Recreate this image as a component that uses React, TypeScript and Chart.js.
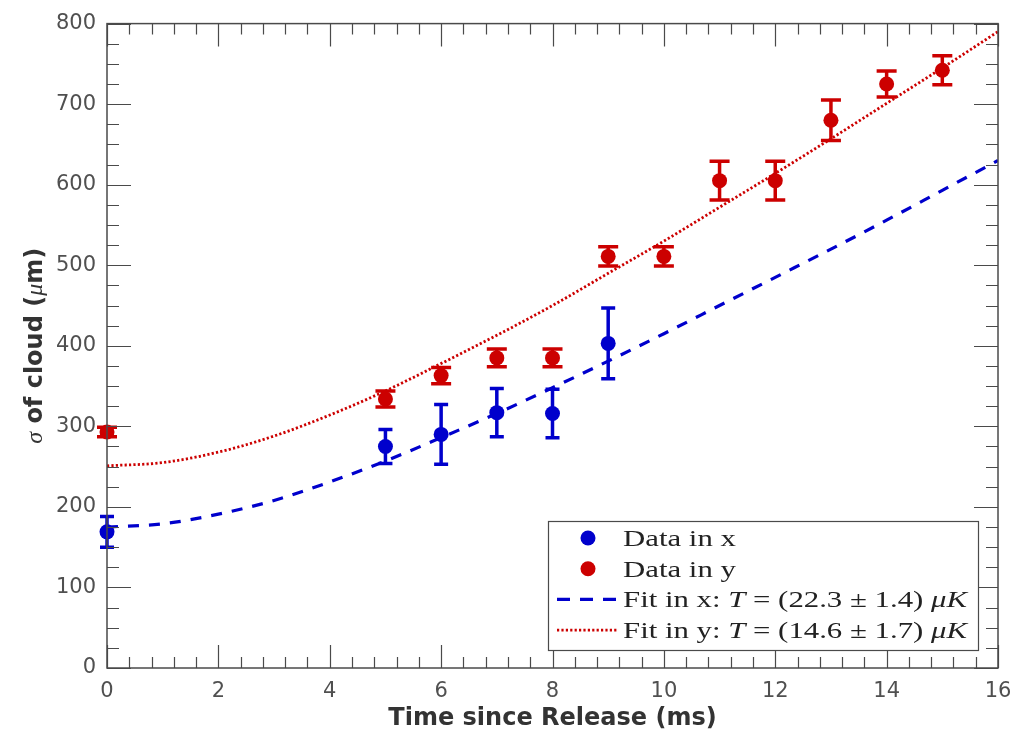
import { useEffect, useRef } from "react";
import { Chart, registerables } from "chart.js";

Chart.register(...registerables);

// ---- data ----
const dataTimeX = [0, 5, 6, 7, 8, 9];
const dataSigmaX = [169, 275, 290, 317, 316, 403];
const errSigmaX = [19, 21, 37, 30, 30, 44];

const dataTimeY = [0, 5, 6, 7, 8, 9, 10, 11, 12, 13, 14, 15];
const dataSigmaY = [293, 334, 363, 385, 385, 511, 511, 605, 605, 680, 725, 742];
const errSigmaY = [6, 10, 10, 11, 11, 12, 12, 24, 24, 25, 16, 18];

const fitTime = [0, 1, 2, 3, 4, 5, 6, 7, 8, 9, 10, 11, 12, 13, 14, 15, 16];
const fitSigmaX = [175, 179, 191, 208, 231, 257, 286, 316, 348, 381, 415, 450, 485, 520, 556, 593, 630];
const fitSigmaY = [251, 255, 268, 288, 314, 344, 378, 413, 450, 490, 530, 572, 614, 657, 701, 745, 790];

const xTickValues = [0, 2, 4, 6, 8, 10, 12, 14, 16];
const yTickValues = [0, 100, 200, 300, 400, 500, 600, 700, 800];

const xTitle = "Time since Release (ms)";
const yTitleParts: [string, string][] = [
  ["σ", "math"],
  [" of cloud (", "bold"],
  ["μ", "math"],
  ["m)", "bold"],
];

// legend rows: [text, italic?] segments
const legendRows: { kind: string; parts: [string, boolean][] }[] = [
  { kind: "pointX", parts: [["Data in x", false]] },
  { kind: "pointY", parts: [["Data in y", false]] },
  {
    kind: "dash",
    parts: [["Fit in x: ", false], ["T", true], [" = (22.3 ± 1.4) ", false], ["μK", true]],
  },
  {
    kind: "dot",
    parts: [["Fit in y: ", false], ["T", true], [" = (14.6 ± 1.7) ", false], ["μK", true]],
  },
];

const BLUE = "rgb(0,0,204)";
const RED = "rgb(204,0,0)";
const AXIS = "#4a4a4a";
const TICKTXT = "#505050";

const decorPlugin = {
  id: "decor",
  afterDatasetsDraw(chart: any) {
    const { ctx, scales } = chart;
    const xs = scales.x;
    const ys = scales.y;
    const groups: [number[], number[], number[], string, number][] = [
      [dataTimeX, dataSigmaX, errSigmaX, BLUE, 7],
      [dataTimeY, dataSigmaY, errSigmaY, RED, 10],
    ];
    ctx.save();
    for (const [ts, vs, es, color, cap] of groups) {
      ctx.strokeStyle = color;
      ctx.lineWidth = 3.5;
      ctx.lineCap = "butt";
      for (let i = 0; i < ts.length; i++) {
        const px = xs.getPixelForValue(ts[i]);
        const pt = ys.getPixelForValue(vs[i] + es[i]);
        const pb = ys.getPixelForValue(vs[i] - es[i]);
        ctx.beginPath();
        ctx.moveTo(px, pt);
        ctx.lineTo(px, pb);
        ctx.moveTo(px - cap, pt);
        ctx.lineTo(px + cap, pt);
        ctx.moveTo(px - cap, pb);
        ctx.lineTo(px + cap, pb);
        ctx.stroke();
      }
    }
    ctx.restore();
  },
  afterDraw(chart: any) {
    const { ctx, chartArea, scales } = chart;
    const xs = scales.x;
    const ys = scales.y;
    const { left, right, top, bottom } = chartArea;
    ctx.save();
    // ticks
    ctx.strokeStyle = AXIS;
    ctx.lineWidth = 1.2;
    ctx.beginPath();
    for (let i = 0; i <= 40; i++) {
      const v = i * 0.4;
      const len = i % 5 === 0 ? 23 : 11;
      const px = Math.round(xs.getPixelForValue(v)) + 0.5;
      ctx.moveTo(px, bottom);
      ctx.lineTo(px, bottom - len);
      ctx.moveTo(px, top);
      ctx.lineTo(px, top + len);
    }
    for (let i = 0; i <= 32; i++) {
      const v = i * 25;
      const len = i % 4 === 0 ? 24 : 12;
      const py = Math.round(ys.getPixelForValue(v)) + 0.5;
      ctx.moveTo(left, py);
      ctx.lineTo(left + len, py);
      ctx.moveTo(right, py);
      ctx.lineTo(right - len, py);
    }
    ctx.stroke();
    // frame
    ctx.lineWidth = 1.5;
    ctx.strokeRect(left, top, right - left, bottom - top);

    // y title
    const fBold = "bold 24px 'DejaVu Sans'";
    const fMath = "italic 24px 'Liberation Serif'";
    ctx.fillStyle = "#333";
    ctx.textBaseline = "alphabetic";
    ctx.textAlign = "left";
    let total = 0;
    for (const [t, k] of yTitleParts) {
      ctx.font = k === "bold" ? fBold : fMath;
      total += ctx.measureText(t).width;
    }
    ctx.save();
    ctx.translate(left - 65, (top + bottom) / 2);
    ctx.rotate(-Math.PI / 2);
    let cx = -total / 2;
    for (const [t, k] of yTitleParts) {
      ctx.font = k === "bold" ? fBold : fMath;
      ctx.fillText(t, cx, 0);
      cx += ctx.measureText(t).width;
    }
    ctx.restore();

    // legend
    const bw = 430;
    const bh = 129;
    const bx = right - 20 - bw;
    const by = bottom - 18 - bh;
    ctx.fillStyle = "#fff";
    ctx.fillRect(bx, by, bw, bh);
    ctx.strokeStyle = "#4a4a4a";
    ctx.lineWidth = 1.2;
    ctx.strokeRect(bx + 0.5, by + 0.5, bw, bh);

    const fN = "24px 'Liberation Serif'";
    const fI = "italic 24px 'Liberation Serif'";
    let wLong = 0;
    for (const [t, it] of legendRows[2].parts) {
      ctx.font = it ? fI : fN;
      wLong += ctx.measureText(t).width;
    }
    const sx = 344 / wLong;
    const textX = bx + 75;
    legendRows.forEach((row, i) => {
      const cy = by + 17 + i * 30.7;
      if (row.kind === "pointX" || row.kind === "pointY") {
        ctx.fillStyle = row.kind === "pointX" ? BLUE : RED;
        ctx.beginPath();
        ctx.arc(bx + 40, cy, 7.5, 0, Math.PI * 2);
        ctx.fill();
      } else {
        ctx.save();
        ctx.strokeStyle = row.kind === "dash" ? BLUE : RED;
        ctx.lineWidth = row.kind === "dash" ? 3.2 : 2.6;
        ctx.setLineDash(row.kind === "dash" ? [13, 10] : [2.2, 2.2]);
        ctx.beginPath();
        ctx.moveTo(bx + 9, cy);
        ctx.lineTo(bx + 69, cy);
        ctx.stroke();
        ctx.restore();
      }
      ctx.save();
      ctx.translate(textX, cy + 8);
      ctx.scale(sx, 1);
      ctx.fillStyle = "#222";
      ctx.textBaseline = "alphabetic";
      let tx = 0;
      for (const [t, it] of row.parts) {
        ctx.font = it ? fI : fN;
        ctx.fillText(t, tx, 0);
        tx += ctx.measureText(t).width;
      }
      ctx.restore();
    });
    ctx.restore();
  },
};

export default function App() {
  const ref = useRef<HTMLCanvasElement | null>(null);
  useEffect(() => {
    if (!ref.current) return;
    const chart = new Chart(ref.current, {
      type: "scatter",
      data: {
        datasets: [
          {
            label: "Data in x",
            data: dataTimeX.map((t, i) => ({ x: t, y: dataSigmaX[i] })),
            backgroundColor: BLUE,
            borderColor: BLUE,
            pointRadius: 7.5,
            pointBorderWidth: 0,
            showLine: false,
            clip: false,
            order: 0,
          },
          {
            label: "Data in y",
            data: dataTimeY.map((t, i) => ({ x: t, y: dataSigmaY[i] })),
            backgroundColor: RED,
            borderColor: RED,
            pointRadius: 7.5,
            pointBorderWidth: 0,
            showLine: false,
            clip: false,
            order: 0,
          },
          {
            type: "line",
            label: "Fit in x",
            data: fitTime.map((t, i) => ({ x: t, y: fitSigmaX[i] })),
            borderColor: BLUE,
            borderWidth: 3.2,
            borderDash: [11, 10],
            pointRadius: 0,
            cubicInterpolationMode: "monotone",
            fill: false,
            order: 1,
          },
          {
            type: "line",
            label: "Fit in y",
            data: fitTime.map((t, i) => ({ x: t, y: fitSigmaY[i] })),
            borderColor: RED,
            borderWidth: 2.8,
            borderDash: [2.2, 2.2],
            pointRadius: 0,
            cubicInterpolationMode: "monotone",
            fill: false,
            order: 1,
          },
        ] as any,
      },
      options: {
        animation: false,
        responsive: true,
        maintainAspectRatio: false,
        layout: { padding: { top: 19, right: 28, left: 0, bottom: 0 } },
        plugins: {
          legend: { display: false },
          tooltip: { enabled: false },
        },
        scales: {
          x: {
            type: "linear",
            min: 0,
            max: 16,
            afterBuildTicks: (s: any) => {
              s.ticks = xTickValues.map((v) => ({ value: v }));
            },
            ticks: {
              font: { family: "'DejaVu Sans'", size: 21 },
              color: TICKTXT,
              padding: 11,
              maxRotation: 0,
            },
            grid: { display: false, drawTicks: false },
            border: { display: false },
            title: {
              display: true,
              text: xTitle,
              font: { family: "'DejaVu Sans'", size: 24, weight: "bold" },
              color: "#333",
              padding: { top: 0, bottom: 0 },
            },
            afterFit: (s: any) => {
              s.height = 65;
            },
          },
          y: {
            type: "linear",
            min: 0,
            max: 800,
            afterBuildTicks: (s: any) => {
              s.ticks = yTickValues.map((v) => ({ value: v }));
            },
            ticks: {
              font: { family: "'DejaVu Sans'", size: 21 },
              color: TICKTXT,
              padding: 11,
            },
            grid: { display: false, drawTicks: false },
            border: { display: false },
            afterFit: (s: any) => {
              s.width = 107;
            },
          },
        },
      } as any,
      plugins: [decorPlugin],
    });
    return () => chart.destroy();
  }, []);
  return (
    <div style={{ position: "fixed", left: 0, top: 0, width: 1026, height: 733, background: "#fff" }}>
      <canvas ref={ref} />
    </div>
  );
}
